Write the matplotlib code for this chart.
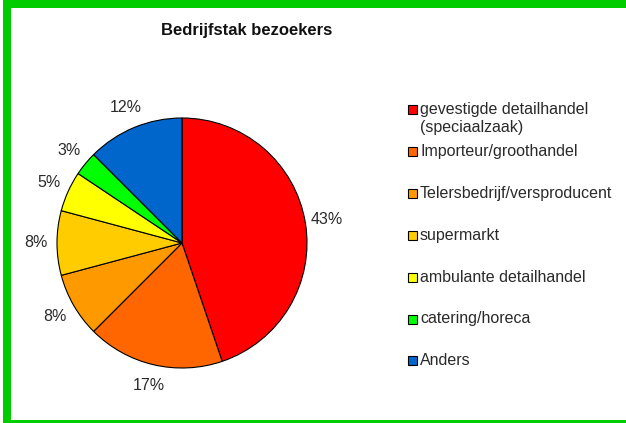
import matplotlib
matplotlib.use("Agg")
import matplotlib.pyplot as plt
from matplotlib.patches import Rectangle

title = "Bedrijfstak bezoekers"
categories = ["gevestigde detailhandel\n(speciaalzaak)", "Importeur/groothandel",
              "Telersbedrijf/versproducent", "supermarkt", "ambulante detailhandel",
              "catering/horeca", "Anders"]
percentages = [43, 17, 8, 8, 5, 3, 12]
colors = ["#FF0000", "#FF6600", "#FF9900", "#FFCC00", "#FFFF00", "#00FF00", "#0066CC"]

W, H = 626, 423
fig = plt.figure(figsize=(W / 100, H / 100), dpi=100)
plt.rcParams['font.family'] = ['Liberation Sans', 'DejaVu Sans']

# green frame
frame = Rectangle((7 / W, -0.5 / H), 700 / W, (H - 4 + 0.5) / H, transform=fig.transFigure,
                  fill=False, edgecolor="#00CC00", linewidth=8 * 0.72, clip_on=False)
fig.patches.append(frame)

cx, cy, r = 182, 243, 125
ax = fig.add_axes([(cx - r) / W, (H - cy - r) / H, 2 * r / W, 2 * r / H])
wedges, texts = ax.pie(percentages, colors=colors, startangle=90, counterclock=False,
                       labels=[f"{p}%" for p in percentages], labeldistance=1.17,
                       wedgeprops=dict(edgecolor="black", linewidth=0.8),
                       textprops=dict(fontsize=11.5, color="#2a2a2a"))
for t in texts:
    t.set_ha("center")
    t.set_va("center")
ax.set_xlim(-1, 1)
ax.set_ylim(-1, 1)
ax.set_aspect("equal")

fig.text(247 / W, 1 - 30 / H, title, ha="center", va="center", fontsize=12,
         fontweight="bold", color="#111111")

# legend
y0, dy = 110, 41.8
for i, (cat, col) in enumerate(zip(categories, colors)):
    y = y0 + i * dy
    fig.patches.append(Rectangle((408 / W, 1 - (y + 4.5) / H), 9 / W, 9 / H,
                                 transform=fig.transFigure, facecolor=col,
                                 edgecolor="black", linewidth=0.8))
    if "\n" in cat:
        fig.text(420 / W, 1 - (y - 8) / H, cat, ha="left", va="top", fontsize=11.5,
                 color="#2a2a2a", linespacing=1.25)
    else:
        fig.text(420 / W, 1 - y / H, cat, ha="left", va="center", fontsize=11.5,
                 color="#2a2a2a")

fig.savefig("out.png", dpi=100)
